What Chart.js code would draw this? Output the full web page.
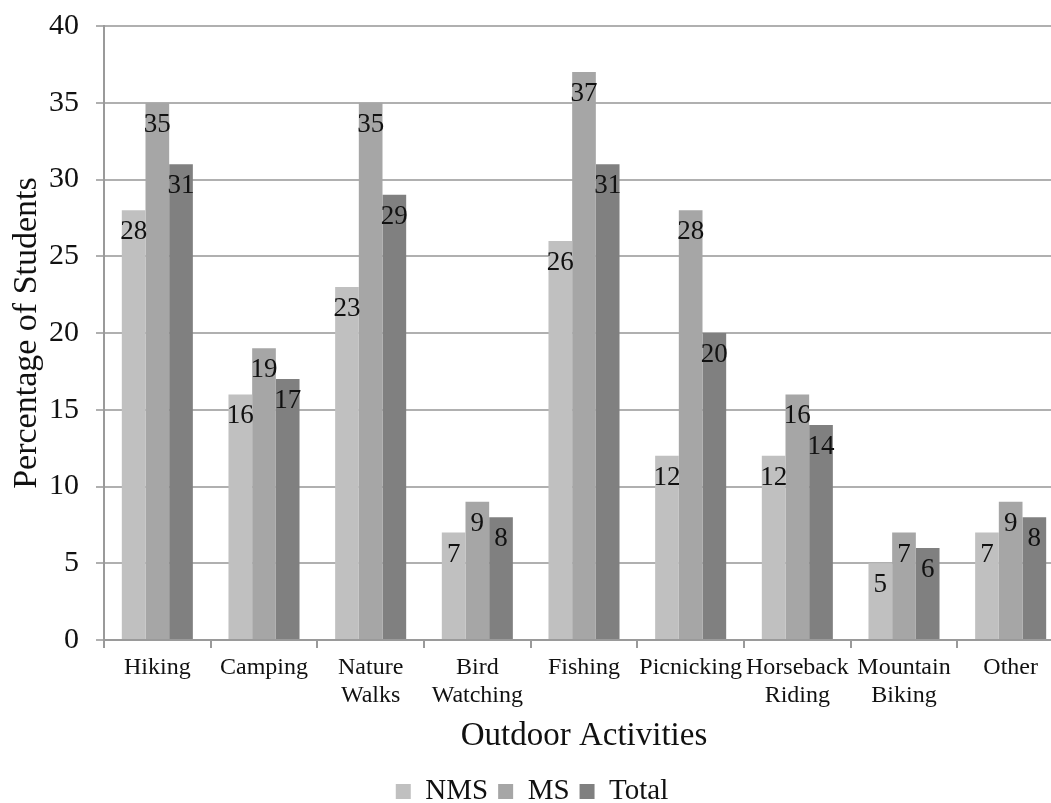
<!DOCTYPE html>
<html>
<head>
<meta charset="utf-8">
<title>Outdoor Activities</title>
<script src="https://cdn.jsdelivr.net/npm/chart.js@4/dist/chart.umd.min.js"></script>
<style>
  html, body { margin: 0; padding: 0; background: #ffffff; overflow: hidden; }
  #wrap { width: 1075px; height: 816px; }
</style>
</head>
<body>
<div id="wrap"><canvas id="chart" width="1075" height="816"></canvas></div>
<script>
// Activities (multi-line labels are wrapped as arrays)
const categories = [
  'Hiking', 'Camping', ['Nature', 'Walks'], ['Bird', 'Watching'], 'Fishing',
  'Picnicking', ['Horseback', 'Riding'], ['Mountain', 'Biking'], 'Other'
];

// Percentage of students per group
const nmsValues   = [28, 16, 23, 7, 26, 12, 12, 5, 7];
const msValues    = [35, 19, 35, 9, 37, 28, 16, 7, 9];
const totalValues = [31, 17, 29, 8, 31, 20, 14, 6, 8];

const yTicks = [0, 5, 10, 15, 20, 25, 30, 35, 40];

const SERIF = '"Liberation Serif", "Times New Roman", serif';

// Writes each bar's value just inside its top edge
const barValueLabels = {
  id: 'barValueLabels',
  afterDatasetsDraw(chart) {
    const ctx = chart.ctx;
    ctx.save();
    ctx.font = '27px ' + SERIF;
    ctx.fillStyle = '#111111';
    ctx.textAlign = 'center';
    ctx.textBaseline = 'middle';
    chart.data.datasets.forEach((ds, i) => {
      const meta = chart.getDatasetMeta(i);
      meta.data.forEach((bar, j) => {
        ctx.fillText(String(ds.data[j]), bar.x, bar.y + 22);
      });
    });
    ctx.restore();
  }
};

new Chart(document.getElementById('chart'), {
  type: 'bar',
  data: {
    labels: categories,
    datasets: [
      { label: 'NMS',   data: nmsValues,   backgroundColor: '#c0c0c0' },
      { label: 'MS',    data: msValues,    backgroundColor: '#a6a6a6' },
      { label: 'Total', data: totalValues, backgroundColor: '#808080' }
    ]
  },
  options: {
    responsive: false,
    animation: false,
    devicePixelRatio: 1,
    layout: { padding: { top: 26, right: 11, bottom: 0, left: 0 } },
    datasets: {
      bar: { categoryPercentage: 0.666, barPercentage: 1.0, borderWidth: 0 }
    },
    plugins: {
      tooltip: { enabled: false },
      legend: {
        position: 'bottom',
        labels: {
          color: '#111111',
          font: { family: SERIF, size: 29 },
          boxWidth: 15,
          boxHeight: 15,
          padding: 10
        }
      }
    },
    scales: {
      x: {
        afterFit(scale) { scale.height = 127; },
        border: { display: true, color: '#9a9a9a', width: 2 },
        grid: {
          offset: true,
          drawOnChartArea: false,
          drawTicks: true,
          tickLength: 8,
          color: '#9a9a9a',
          lineWidth: 2
        },
        ticks: {
          color: '#111111',
          font: { family: SERIF, size: 24, lineHeight: 1.17 },
          maxRotation: 0,
          autoSkip: false,
          padding: 6
        },
        title: {
          display: true,
          text: 'Outdoor Activities',
          color: '#111111',
          font: { family: SERIF, size: 33 },
          padding: { top: 0, bottom: 11 }
        }
      },
      y: {
        min: 0,
        max: 40,
        afterFit(scale) {
          scale.width = 104;
          scale.paddingTop = 0;
          scale.paddingBottom = 0;
        },
        afterBuildTicks(scale) { scale.ticks = yTicks.map(v => ({ value: v })); },
        border: { display: true, color: '#9a9a9a', width: 2 },
        grid: {
          color: '#b0b0b0',
          lineWidth: 2,
          drawTicks: true,
          tickLength: 8
        },
        ticks: {
          color: '#111111',
          font: { family: SERIF, size: 30 },
          padding: 17
        },
        title: {
          display: true,
          text: 'Percentage of Students',
          color: '#111111',
          font: { family: SERIF, size: 34 },
          padding: { top: 7, bottom: 0 }
        }
      }
    }
  },
  plugins: [barValueLabels]
});
</script>
</body>
</html>
